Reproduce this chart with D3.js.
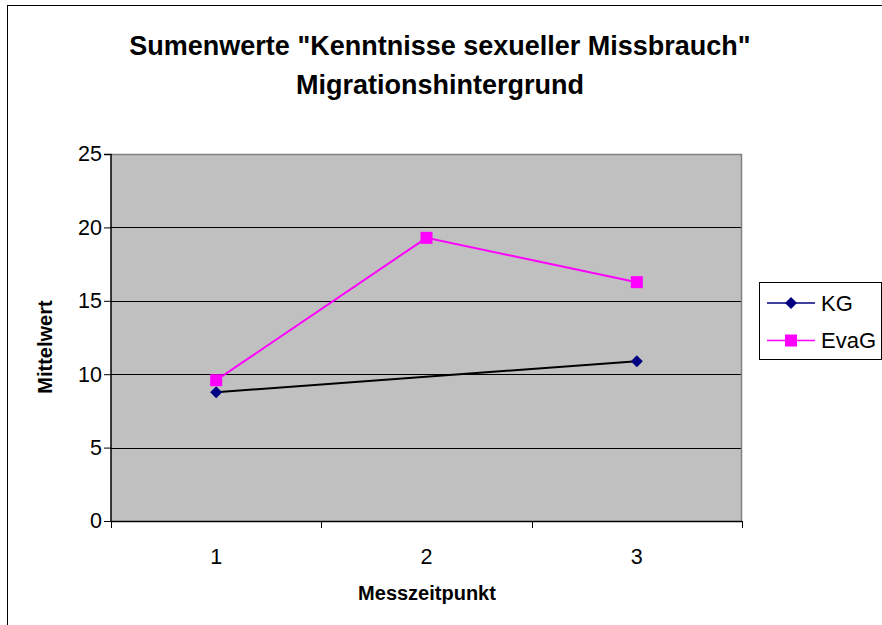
<!DOCTYPE html>
<html>
<head>
<meta charset="utf-8">
<script src="https://cdn.jsdelivr.net/npm/d3@7"></script>
<style>
  body { margin: 0; background: #fff; }
  text { font-family: Arial, "Liberation Sans", sans-serif; fill: #000; }
</style>
</head>
<body>
<div class="chart"></div>
<script>
// values
const categories = ["1", "2", "3"]
const kgValues = [8.77, null, 10.89]
const evagValues = [9.59, 19.29, 16.27]
const yTicks = [0, 5, 10, 15, 20, 25]
const seriesNames = ["KG", "EvaG"]

const W = 882, H = 625
const margin = ({top: 154, right: 140, bottom: 104, left: 111})
const width = W - margin.left - margin.right
const height = H - margin.top - margin.bottom

const svg = d3.select('.chart').append('svg')
    .attr('width', W)
    .attr('height', H)

// outer chart frame (right/bottom edges fall outside the picture)
svg.append('rect')
    .attr('x', 7.5).attr('y', 5.5)
    .attr('width', 900).attr('height', 700)
    .attr('fill', '#fff')
    .attr('stroke', '#000')

svg.append('text')
    .attr('x', 440).attr('y', 55)
    .attr('text-anchor', 'middle')
    .style('font-size', '27px').style('font-weight', 'bold')
    .text('Sumenwerte "Kenntnisse sexueller Missbrauch"')
svg.append('text')
    .attr('x', 440).attr('y', 94)
    .attr('text-anchor', 'middle')
    .style('font-size', '27px').style('font-weight', 'bold')
    .text('Migrationshintergrund')

const g = svg.append('g')
    .attr('transform', `translate(${margin.left},${margin.top})`)

const xScale = d3.scaleBand()
    .domain(categories)
    .range([0, width])

const yScale = d3.scaleLinear()
    .domain([0, 25])
    .range([height, 0])

// plot area
g.append('rect')
    .attr('width', width).attr('height', height)
    .attr('fill', '#c0c0c0')

g.append('g')
    .selectAll('line')
    .data(yTicks.filter(d => d > 0 && d < 25))
    .join('line')
    .attr('x1', 0).attr('x2', width)
    .attr('y1', d => Math.round(yScale(d)) + 0.5)
    .attr('y2', d => Math.round(yScale(d)) + 0.5)
    .attr('stroke', '#000')

// top and right border of plot area
g.append('path')
    .attr('d', `M0,0.5H${width - 0.5}V${height}`)
    .attr('fill', 'none')
    .attr('stroke', '#808080')
    .attr('stroke-width', 1.5)

// y axis
const yAxis = d3.axisLeft(yScale)
    .tickValues(yTicks)
    .tickSize(7)
    .tickPadding(2)
g.append('g')
    .attr('class', 'axis y-axis')
    .call(yAxis)
    .call(a => a.select('.domain').attr('stroke', '#000').attr('stroke-width', 1.5).attr('d', `M-7,0.5H0V${height}`))
    .call(a => a.selectAll('text').style('font-size', '21.5px').attr('font-family', null))
    .call(a => a.selectAll('line').attr('stroke', '#000'))

// x axis: labels at band centres, ticks at band edges
const xAxis = d3.axisBottom(xScale)
    .tickSize(0)
    .tickPadding(28)
g.append('g')
    .attr('class', 'axis x-axis')
    .attr('transform', `translate(0,${height})`)
    .call(xAxis)
    .call(a => a.select('.domain').remove())
    .call(a => a.selectAll('text').style('font-size', '21.5px').attr('font-family', null))

const edges = categories.map(c => xScale(c)).concat([xScale(categories[categories.length - 1]) + xScale.bandwidth()])
g.append('g')
    .selectAll('line')
    .data(edges)
    .join('line')
    .attr('x1', d => Math.round(d) + 0.5).attr('x2', d => Math.round(d) + 0.5)
    .attr('y1', height).attr('y2', height + 7)
    .attr('stroke', '#000')
g.append('line')
    .attr('x1', 0).attr('x2', width)
    .attr('y1', height + 0.5).attr('y2', height + 0.5)
    .attr('stroke', '#000').attr('stroke-width', 1.5)

// series
const cx = c => xScale(c) + xScale.bandwidth() / 2
const line = d3.line()
    .x(d => cx(d.c))
    .y(d => yScale(d.v))

const kgPts = categories.map((c, i) => ({c: c, v: kgValues[i]})).filter(d => d.v != null)
const evPts = categories.map((c, i) => ({c: c, v: evagValues[i]})).filter(d => d.v != null)

g.append('path')
    .datum(kgPts)
    .attr('d', line)
    .attr('fill', 'none')
    .attr('stroke', '#000')
    .attr('stroke-width', 2)

g.append('path')
    .datum(evPts)
    .attr('d', line)
    .attr('fill', 'none')
    .attr('stroke', '#ff00ff')
    .attr('stroke-width', 2)

const diamond = (x, y) => `M${x},${y - 6}L${x + 6},${y}L${x},${y + 6}L${x - 6},${y}Z`

g.selectAll('.kg-mark')
    .data(kgPts)
    .join('path')
    .attr('class', 'kg-mark')
    .attr('d', d => diamond(cx(d.c), yScale(d.v)))
    .attr('fill', '#000080')

g.selectAll('.ev-mark')
    .data(evPts)
    .join('rect')
    .attr('class', 'ev-mark')
    .attr('x', d => cx(d.c) - 6).attr('y', d => yScale(d.v) - 6)
    .attr('width', 12).attr('height', 12)
    .attr('fill', '#ff00ff')

// axis titles
svg.append('text')
    .attr('transform', 'translate(52,347) rotate(-90)')
    .attr('text-anchor', 'middle')
    .style('font-size', '20px').style('font-weight', 'bold')
    .text('Mittelwert')

svg.append('text')
    .attr('x', 427).attr('y', 600)
    .attr('text-anchor', 'middle')
    .style('font-size', '20px').style('font-weight', 'bold')
    .text('Messzeitpunkt')

// legend
const legend = svg.append('g').attr('transform', 'translate(759,282)')
legend.append('rect')
    .attr('x', 0.5).attr('y', 0.5)
    .attr('width', 122).attr('height', 77)
    .attr('fill', '#fff').attr('stroke', '#000')

const colors = ["#000080", "#ff00ff"]
const rows = legend.selectAll('.row')
    .data(seriesNames)
    .join('g')
    .attr('class', 'row')
    .attr('transform', (d, i) => `translate(0,${21 + i * 37.5})`)
rows.append('line')
    .attr('x1', 8).attr('x2', 56)
    .attr('stroke', (d, i) => colors[i])
    .attr('stroke-width', 1.5)
rows.append('path')
    .attr('d', (d, i) => i === 0 ? diamond(32, 0) : 'M26,-6h12v12h-12Z')
    .attr('fill', (d, i) => colors[i])
rows.append('text')
    .attr('x', 62).attr('dy', '0.36em')
    .style('font-size', '22px')
    .text(d => d)
</script>
</body>
</html>
